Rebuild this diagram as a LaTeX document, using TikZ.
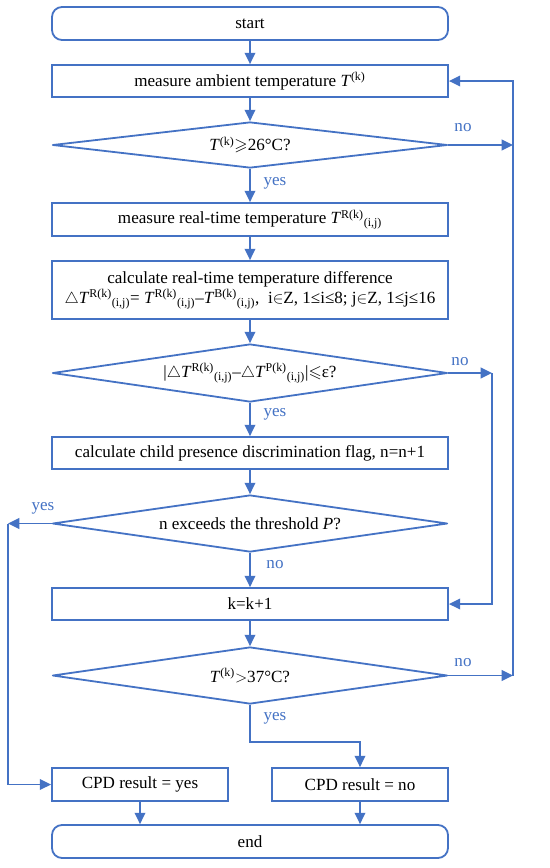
\documentclass[tikz,border=0pt]{standalone}
\usepackage{amsmath, amssymb}
\usepackage{fontspec}
\setmainfont{Liberation Serif}
\usetikzlibrary{shapes.geometric, arrows.meta}
\definecolor{flowblue}{RGB}{68,114,196}
\newcommand{\flowfont}{\fontsize{12.8}{15}\selectfont}
\newcommand{\Tk}[1]{\textit{T}\textsuperscript{#1}}
\tikzset{every picture/.style={line width=1.35pt}}
\tikzset{
  procbox/.style={draw=flowblue, rectangle, minimum width=297pt, inner sep=0.75pt, align=center, font=\flowfont},
  termbox/.style={procbox, rounded corners=7.5pt},
  halfbox/.style={procbox, minimum width=132pt},
  decision/.style={draw=flowblue, diamond, aspect=8, inner sep=0pt, minimum width=296.25pt, line join=round, font=\flowfont},
  flowarrow/.style={draw=flowblue, -{Triangle[length=8.5pt,width=8pt]}},
  flowline/.style={draw=flowblue},
  flowlabel/.style={text=flowblue, inner sep=0.75pt, font=\flowfont}
}

\begin{document}
\begin{tikzpicture}[x=0.75pt,y=0.75pt,yscale=-1,xscale=1]
\useasboundingbox (0,0) rectangle (550,868);

% Boxes
\node [termbox, minimum height=24.75pt] (start) at (250,23.5) {start};
\node [procbox, minimum height=24pt] (ambient) at (250,81) {measure ambient temperature \Tk{(k)}};
\node [decision, minimum height=34.5pt] (hot) at (250,145) {\Tk{(k)}$\geqslant$26°C?};
\node [procbox, minimum height=24.75pt] (realtime) at (250,219.5) {measure real-time temperature \Tk{R(k)}\textsubscript{(i,j)}};
\node [procbox, minimum height=43.5pt] (diff) at (250,290) {calculate real-time temperature difference\\
  $\triangle$\Tk{R(k)}\textsubscript{(i,j)}= \Tk{R(k)}\textsubscript{(i,j)}–\Tk{B(k)}\textsubscript{(i,j)},\ \ i$\in$Z, 1≤i≤8; j$\in$Z, 1≤j≤16};
\node [decision, minimum height=43.5pt] (match) at (250,373) {|$\triangle$\Tk{R(k)}\textsubscript{(i,j)}–$\triangle$\Tk{P(k)}\textsubscript{(i,j)}|$\leqslant$ε?};
\node [procbox, minimum height=24pt] (flag) at (250,453) {calculate child presence discrimination flag, n=n+1};
\node [decision, minimum height=42.75pt] (thresh) at (250,523.5) {n exceeds the threshold \textit{P}?};
\node [procbox, minimum height=24pt] (kinc) at (250,604) {k=k+1};
\node [decision, minimum height=42.75pt] (over) at (250,675.5) {\Tk{(k)}$>$37°C?};
\node [halfbox, minimum height=24.75pt] (cpdyes) at (140,784.5) {CPD result = yes};
\node [halfbox, minimum height=24.75pt] (cpdno) at (360,784.5) {CPD result = no};
\node [termbox, minimum height=24.75pt] (end) at (250,841.5) {end};

% Bend points
\coordinate (rhot) at (513,145);
\coordinate (rover) at (513,675.5);
\coordinate (rmatch) at (492,373);
\coordinate (lthresh) at (8,523.5);
\coordinate (bover) at (360,742);

% Main flow
\draw [flowarrow] (start) -- (ambient);
\draw [flowarrow] (ambient) -- (hot);
\draw [flowarrow] (hot) -- (realtime);
\draw [flowarrow] (realtime) -- (diff);
\draw [flowarrow] (diff) -- (match);
\draw [flowarrow] (match) -- (flag);
\draw [flowarrow] (flag) -- (thresh);
\draw [flowarrow] (thresh) -- (kinc);
\draw [flowarrow] (kinc) -- (over);
\draw [flowarrow] (cpdyes.south) -- (cpdyes.south |- end.north);
\draw [flowarrow] (cpdno.south) -- (cpdno.south |- end.north);

% Loops
\draw [flowarrow] (hot.east) -- (rhot);
\draw [flowarrow] (over.east) -- (rover);
\draw [flowarrow] (rover) |- (ambient.east);
\draw [flowarrow] (match.east) -- (rmatch);
\draw [flowarrow] (rmatch) |- (kinc.east);
\draw [flowarrow] (thresh.west) -- (lthresh);
\draw [flowarrow] (lthresh) |- (cpdyes.west);
\draw [flowarrow] (over.south) |- (bover) -- (cpdno.north);

% Labels
\node [flowlabel] (nohot) at (463,128) {no};
\node [flowlabel] (yeshot) at (275,183) {yes};
\node [flowlabel] (nomatch) at (460,362) {no};
\node [flowlabel] (yesmatch) at (275,414) {yes};
\node [flowlabel] (yesthresh) at (43,508) {yes};
\node [flowlabel] (nothresh) at (275,565) {no};
\node [flowlabel] (noover) at (463,663) {no};
\node [flowlabel] (yesover) at (275,718) {yes};

\end{tikzpicture}
\end{document}
